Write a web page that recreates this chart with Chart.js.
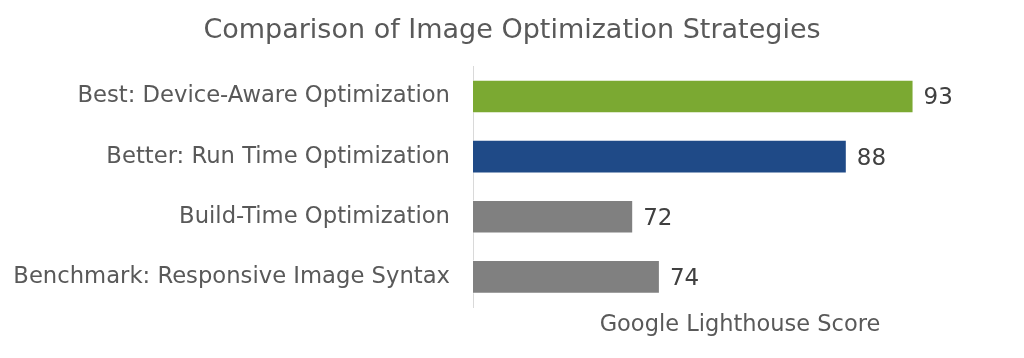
<!DOCTYPE html>
<html>
<head>
<meta charset="utf-8">
<script src="https://cdn.jsdelivr.net/npm/chart.js@4/dist/chart.umd.min.js"></script>
<style>
html,body{margin:0;padding:0;background:#fff;}
#wrap{width:1024px;height:358px;position:relative;}
</style>
</head>
<body>
<div id="wrap"><canvas id="c" width="1024" height="358"></canvas></div>
<script>
const categories = [
  "Best: Device-Aware Optimization",
  "Better: Run Time Optimization",
  "Build-Time Optimization",
  "Benchmark: Responsive Image Syntax"
];
const scores = [93, 88, 72, 74];
const barColors = ["#7BA932", "#1F4A87", "#808080", "#808080"];
const chartTitle = "Comparison of Image Optimization Strategies";
const axisTitle = "Google Lighthouse Score";
const axisMin = 60;
const axisMax = 100;

const FONT = "'DejaVu Sans', Verdana, sans-serif";

const valueLabels = {
  id: 'valueLabels',
  afterDatasetsDraw(chart) {
    const ctx = chart.ctx;
    const meta = chart.getDatasetMeta(0);
    ctx.save();
    ctx.font = "23px " + FONT;
    ctx.fillStyle = "#404040";
    ctx.textAlign = "left";
    ctx.textBaseline = "middle";
    meta.data.forEach((bar, i) => {
      ctx.fillText(String(chart.data.datasets[0].data[i]), bar.x + 10, bar.y + 2);
    });
    ctx.restore();
  }
};

new Chart(document.getElementById('c'), {
  type: 'bar',
  data: {
    labels: categories,
    datasets: [{
      data: scores,
      backgroundColor: barColors,
      borderColor: "rgba(255,255,255,0.5)",
      borderWidth: 1,
      barPercentage: 0.56,
      categoryPercentage: 1.0
    }]
  },
  options: {
    indexAxis: 'y',
    responsive: false,
    animation: false,
    layout: { padding: { left: 0, right: 0, top: 0, bottom: 19 } },
    plugins: {
      legend: { display: false },
      tooltip: { enabled: false },
      title: {
        display: true,
        text: chartTitle,
        color: "#595959",
        font: { family: FONT, size: 27, weight: 'normal' },
        padding: { top: 15, bottom: 19 }
      }
    },
    scales: {
      x: {
        min: axisMin,
        max: axisMax,
        grid: { display: false, drawTicks: false },
        border: { display: false },
        ticks: { display: false },
        title: {
          display: true,
          text: axisTitle,
          color: "#595959",
          font: { family: FONT, size: 22.5 },
          padding: { top: 5, bottom: 0 }
        }
      },
      y: {
        grid: { display: false, drawTicks: false },
        border: { display: true, color: "#d9d9d9", width: 1 },
        ticks: {
          color: "#595959",
          font: { family: FONT, size: 22.7 },
          padding: 23
        },
        afterFit(scale) { scale.width = 473; }
      },
      spacer: {
        type: 'linear',
        position: 'right',
        grid: { display: false, drawTicks: false },
        border: { display: false },
        ticks: { display: false },
        afterFit(scale) { scale.width = 17; }
      }
    }
  },
  plugins: [valueLabels]
});
</script>
</body>
</html>
